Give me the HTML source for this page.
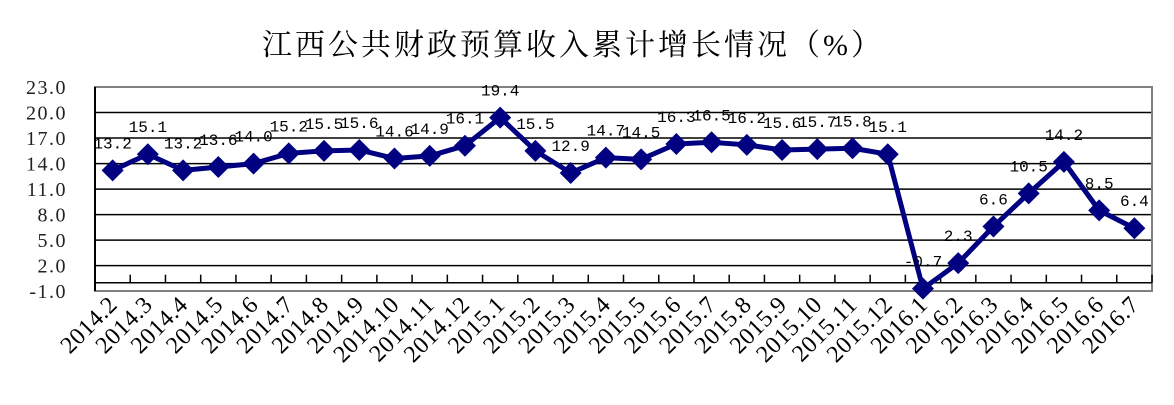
<!DOCTYPE html>
<html><head><meta charset="utf-8"><style>
body{margin:0;background:#fff;}
svg{display:block}
</style></head><body>
<svg width="1174" height="405" xmlns="http://www.w3.org/2000/svg">
<rect width="1174" height="405" fill="#fff"/>
<text x="262" y="55" font-family="'Liberation Serif','Noto Serif CJK SC',serif" font-size="30" letter-spacing="3" fill="#000">江西公共财政预算收入累计增长情况（%）</text>
<g id="g"></g>
</svg>
<script>
const vals=[13.2,15.1,13.2,13.6,14.0,15.2,15.5,15.6,14.6,14.9,16.1,19.4,15.5,12.9,14.7,14.5,16.3,16.5,16.2,15.6,15.7,15.8,15.1,-0.7,2.3,6.6,10.5,14.2,8.5,6.4];
const cats=["2014.2","2014.3","2014.4","2014.5","2014.6","2014.7","2014.8","2014.9","2014.10","2014.11","2014.12","2015.1","2015.2","2015.3","2015.4","2015.5","2015.6","2015.7","2015.8","2015.9","2015.10","2015.11","2015.12","2016.1","2016.2","2016.3","2016.4","2016.5","2016.6","2016.7"];
const L=95,R=1152,T=87,B=291,zero=282.7,k=(282.7-87)/23;
const Y=v=>zero-v*k, W=(R-L)/30, X=i=>L+W*(i+0.5);
let s='';
for(let v=20;v>=2;v-=3){const y=Y(v);s+=`<line x1="${L}" x2="${R}" y1="${y}" y2="${y}" stroke="#000" stroke-width="1.5"/>`;}
s+=`<rect x="${L}" y="${T}" width="${R-L}" height="${B-T}" fill="none" stroke="#808080" stroke-width="2"/>`;
s+=`<line x1="${L}" x2="${L}" y1="${T}" y2="${B}" stroke="#000" stroke-width="2"/>`;
s+=`<line x1="${L}" x2="${R}" y1="${zero}" y2="${zero}" stroke="#000" stroke-width="1.5"/>`;
for(let i=1;i<=30;i++){const x=L+W*i;s+=`<line x1="${x}" x2="${x}" y1="${zero}" y2="${zero-8}" stroke="#000" stroke-width="1.5"/>`;}
for(let v=23;v>=-1;v-=3){s+=`<text x="67" y="${Y(v)+7}" text-anchor="end" font-family="'Liberation Serif',serif" font-size="20" letter-spacing="1.5" fill="#222">${v.toFixed(1)}</text>`;}
s+=`<polyline fill="none" stroke="#000080" stroke-width="5" stroke-linejoin="round" points="${vals.map((v,i)=>X(i)+','+Y(v)).join(' ')}"/>`;
vals.forEach((v,i)=>{const x=X(i),y=Y(v),d=11;s+=`<polygon fill="#000080" points="${x},${y-d} ${x+d},${y} ${x},${y+d} ${x-d},${y}"/>`;});
vals.forEach((v,i)=>{s+=`<text x="${X(i)}" y="${Y(v)-22}" text-anchor="middle" font-family="'Liberation Mono',monospace" font-size="16" fill="#000">${v.toFixed(1)}</text>`;});
cats.forEach((c,i)=>{const x=X(i)+6,y=306;s+=`<text x="${x}" y="${y}" text-anchor="end" transform="rotate(-45 ${x} ${y})" font-family="'Liberation Serif',serif" font-size="24" letter-spacing="0.5" fill="#000">${c}</text>`;});
document.getElementById('g').innerHTML=s;
</script>
</body></html>
